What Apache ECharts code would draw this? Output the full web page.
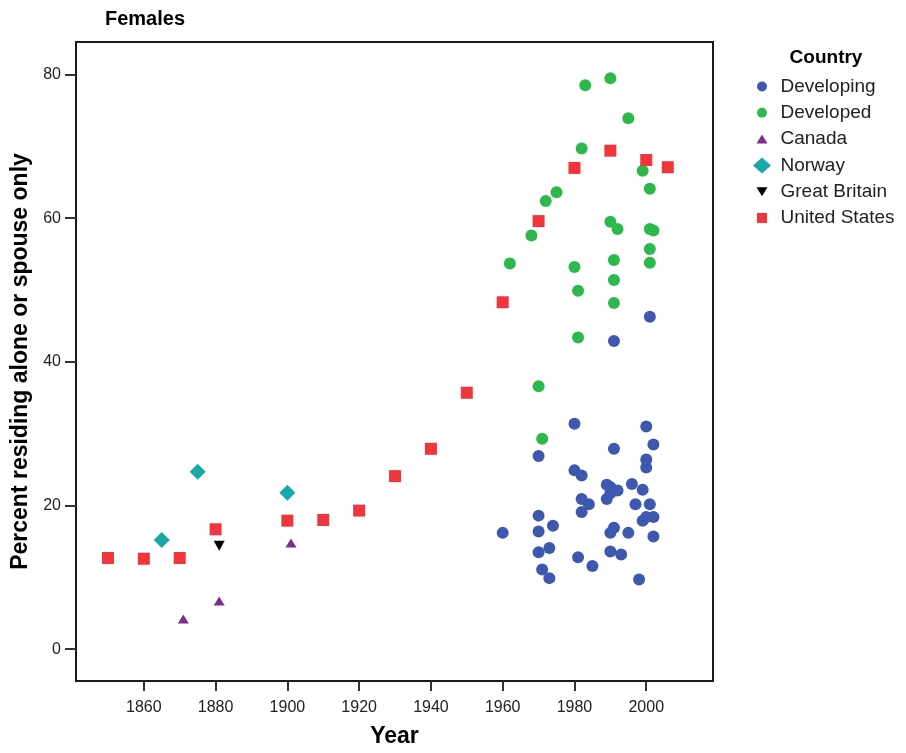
<!DOCTYPE html>
<html>
<head>
<meta charset="utf-8">
<title>Females – percent residing alone or with spouse only</title>
<script src="https://cdn.jsdelivr.net/npm/echarts@6/dist/echarts.min.js"></script>
<style>
  html, body { margin: 0; padding: 0; background: #fff; }
  #chart { width: 906px; height: 753px; }
</style>
</head>
<body>
<div id="chart"></div>
<script>
// Tick positions
const xTicks = [1860, 1880, 1900, 1920, 1940, 1960, 1980, 2000];
const yTicks = [0, 20, 40, 60, 80];

// [year, percent] observations per group
const developing = [
  [2001, 46.3], [1991, 42.9], [1980, 31.4], [2000, 31.0], [2002, 28.5],
  [1991, 27.9], [1970, 26.9], [2000, 26.4], [2000, 25.3], [1980, 24.9],
  [1982, 24.2], [1989, 22.9], [1990, 22.6], [1992, 22.1], [1990, 21.7],
  [1989, 20.9], [1996, 23.0], [1999, 22.2], [1982, 20.9], [1984, 20.2],
  [1982, 19.1], [1997, 20.2], [2001, 20.2], [1999, 17.9], [2000, 18.4],
  [2002, 18.4], [1970, 18.6], [1974, 17.2], [1970, 16.4], [1960, 16.2],
  [1991, 16.9], [1990, 16.2], [1995, 16.2], [2002, 15.7], [1970, 13.5],
  [1973, 14.1], [1981, 12.8], [1990, 13.6], [1993, 13.2], [1985, 11.6],
  [1971, 11.1], [1973, 9.9], [1998, 9.7]
];
const developed = [
  [1983, 78.5], [1990, 79.5], [1995, 73.9], [1982, 69.7], [1999, 66.6],
  [2001, 64.1], [1975, 63.6], [1972, 62.4], [1968, 57.6], [1990, 59.5],
  [1992, 58.5], [2001, 58.5], [2002, 58.3], [2001, 55.7], [2001, 53.8],
  [1991, 54.2], [1962, 53.7], [1980, 53.2], [1991, 51.4], [1981, 49.9],
  [1991, 48.2], [1981, 43.4], [1970, 36.6], [1971, 29.3]
];
const canada = [[1871, 4.2], [1881, 6.7], [1901, 14.8]];
const norway = [[1865, 15.2], [1875, 24.7], [1900, 21.8]];
const greatBritain = [[1881, 14.4]];
const unitedStates = [
  [1850, 12.7], [1860, 12.6], [1870, 12.7], [1880, 16.7], [1900, 17.9],
  [1910, 18.0], [1920, 19.3], [1930, 24.1], [1940, 27.9], [1950, 35.7],
  [1960, 48.3], [1970, 59.6], [1980, 67.0], [1990, 69.4], [2000, 68.1],
  [2006, 67.1]
];

const FONT = '"Liberation Sans", Arial, Helvetica, sans-serif';
const INK = '#1a1a1a';

// Legend icons share a 27x16 frame (the leading moves fix the frame size)
// so every shape keeps its own proportions inside the legend row.
const FRAME = 'path://M0,0M27,16';
const legendIcons = {
  'Developing': FRAME + 'M8.5,8A5,5,0,1,1,18.5,8A5,5,0,1,1,8.5,8Z',
  'Developed': FRAME + 'M8.5,8A5,5,0,1,1,18.5,8A5,5,0,1,1,8.5,8Z',
  'Canada': FRAME + 'M13.5,3.5L19,12.5L8,12.5Z',
  'Norway': FRAME + 'M13.5,0L22.5,8L13.5,16L4.5,8Z',
  'Great Britain': FRAME + 'M8,3.5L19,3.5L13.5,12.5Z',
  'United States': FRAME + 'M8.5,3H18.5V13H8.5Z'
};

function group(name, data, color, symbol, size) {
  return {
    name: name,
    type: 'scatter',
    data: data,
    symbol: symbol,
    symbolSize: size,
    itemStyle: { color: color, opacity: 1 },
    emphasis: { disabled: true },
    animation: false
  };
}

const chart = echarts.init(document.getElementById('chart'), null, { renderer: 'canvas' });

chart.setOption({
  animation: false,
  backgroundColor: '#ffffff',
  textStyle: { fontFamily: FONT },
  grid: {
    left: 76, right: 193, top: 42, bottom: 72,
    show: true, borderColor: INK, borderWidth: 2, backgroundColor: 'transparent'
  },
  graphic: [
    {
      type: 'text', left: 105, top: 9,
      style: { text: 'Females', font: 'bold 20px ' + FONT, fill: '#000' }
    },
    {
      type: 'text', x: 826, y: 58,
      style: {
        text: 'Country', font: 'bold 19px ' + FONT, fill: '#000',
        align: 'center', verticalAlign: 'middle'
      }
    }
  ],
  legend: {
    orient: 'vertical',
    left: 748.5, top: 76.5,
    padding: 0,
    itemWidth: 27, itemHeight: 16, itemGap: 6.3,
    symbolKeepAspect: true,
    selectedMode: false,
    textStyle: { fontFamily: FONT, fontSize: 19, lineHeight: 20, color: '#222' },
    data: Object.keys(legendIcons).map(function (n) {
      return { name: n, icon: legendIcons[n] };
    })
  },
  xAxis: {
    type: 'value',
    min: 1841.1, max: 2018.6,
    name: 'Year',
    nameLocation: 'middle',
    nameGap: 44,
    nameTextStyle: { fontFamily: FONT, fontSize: 23, fontWeight: 'bold', color: '#000' },
    axisLine: { show: true, onZero: false, lineStyle: { color: INK, width: 2 } },
    axisTick: { show: true, length: 10, customValues: xTicks, lineStyle: { color: '#333', width: 2 } },
    axisLabel: {
      customValues: xTicks, margin: 19, fontFamily: FONT, fontSize: 16, color: '#222',
      formatter: function (v) { return String(Math.round(v)); }
    },
    splitLine: { show: false }
  },
  yAxis: {
    type: 'value',
    min: -4.42, max: 84.53,
    name: 'Percent residing alone or spouse only',
    nameLocation: 'middle',
    nameRotate: 90,
    nameGap: 39,
    nameTextStyle: { fontFamily: FONT, fontSize: 23, fontWeight: 'bold', color: '#000' },
    axisLine: { show: true, onZero: false, lineStyle: { color: INK, width: 2 } },
    axisTick: { show: true, length: 11, customValues: yTicks, lineStyle: { color: '#333', width: 2 } },
    axisLabel: {
      customValues: yTicks, margin: 15, fontFamily: FONT, fontSize: 16, color: '#222',
      formatter: function (v) { return String(Math.round(v)); }
    },
    splitLine: { show: false }
  },
  series: [
    group('Developing', developing, '#3e58b0', 'circle', 12),
    group('Developed', developed, '#2db84b', 'circle', 12),
    group('Canada', canada, '#7e2f8e', 'triangle', [11, 9]),
    group('Norway', norway, '#17a9a8', 'diamond', 16),
    group('Great Britain', greatBritain, '#000000', 'path://M0,0L10,0L5,9Z', [11, 10]),
    group('United States', unitedStates, '#f1353d', 'rect', 12)
  ]
});
</script>
</body>
</html>
